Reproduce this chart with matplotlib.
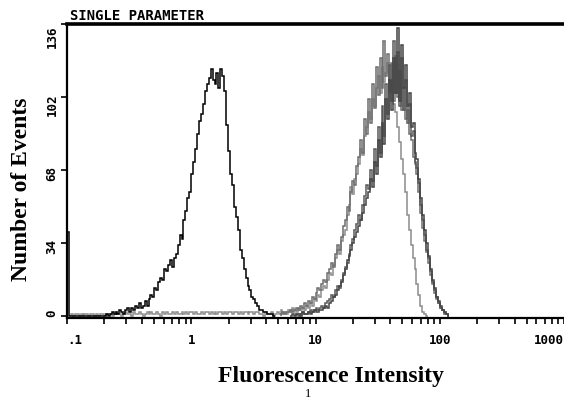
import numpy as np
import matplotlib.pyplot as plt
from matplotlib.ticker import LogLocator, NullFormatter

# histogram counts per channel (256 channels over 4 decades, 64 per decade)
CH_PER_DECADE = 64

black_start = 0
black_counts = [39] + [0] * 19 + [
    1, 0, 1, 2, 1, 2, 1, 3, 2, 1,
    3, 4, 2, 4, 3, 5, 4, 6, 4, 5,
    7, 5, 8, 10, 9, 13, 12, 16, 18, 17,
    22, 21, 24, 26, 23, 27, 29, 33, 38, 36,
    45, 49, 55, 58, 66, 72, 78, 85, 91, 94,
    99, 105, 108, 111, 115, 110, 108, 113, 106, 115,
    112, 105, 89, 77, 66, 61, 51, 46, 40, 31,
    27, 22, 18, 14, 12, 9, 8, 6, 5, 3,
    3, 2, 2, 1, 1, 1, 0]

g1_start = 2
g1_counts = [
    1, 0, 1, 1, 0, 1, 0, 1, 1, 0, 1, 1, 0, 1, 0, 1, 1, 0, 1, 1,
    1, 0, 1, 2, 1, 1, 0, 1, 2, 1, 1, 0, 2, 1, 1, 2, 1, 0, 1, 2,
    1, 2, 1, 1, 2, 1, 0, 2, 1, 2, 1, 1, 2, 1, 2, 1, 1, 2, 1, 2,
    1, 2, 2, 1, 2, 1, 1, 2, 1, 2, 2, 1, 2, 1, 2, 1, 2, 2, 1, 2,
    1, 2, 2, 1, 2, 2, 1, 2, 1, 2, 2, 1, 2, 2, 1, 2, 2, 1,
    1, 0, 2, 1, 1, 2, 0, 1, 2, 1, 3, 1, 2, 1, 3, 2, 4, 3, 2, 4, 3,
    4, 3, 5, 4, 6, 5, 8, 7, 10, 9,
    12, 14, 13, 17, 20, 19, 24, 27, 31, 29,
    35, 38, 40, 47, 52, 60, 57, 64, 66, 71,
    78, 75, 84, 88, 95, 92, 101, 98, 106, 112,
    104, 116, 109, 113, 118, 105, 110, 99, 95, 88,
    81, 73, 66, 58, 47, 40, 33, 27, 22, 15,
    10, 5, 2, 1, 0]

g2_start = 110
g2_counts = [
    1, 2, 1, 2, 2, 3, 2, 3, 4, 3, 5,
    4, 6, 5, 7, 6, 9, 8, 11, 13, 12,
    15, 17, 16, 20, 22, 25, 23, 29, 33, 31,
    37, 42, 45, 51, 49, 58, 63, 61, 70, 74,
    82, 76, 92, 85, 101, 90, 108, 97, 116, 103,
    120, 106, 128, 112, 122, 104, 118, 100, 121, 102,
    114, 96, 106, 92, 96, 85, 82, 74, 71, 66,
    58, 48, 41, 35, 30, 25, 19, 15, 11, 8,
    6, 4, 3, 2, 1, 0]

g3_start = 115
g3_counts = [
    0, 1, 0, 1, 1, 0, 2, 1, 1, 2, 1, 2, 3, 2, 2, 3,
    3, 4, 5, 4, 6, 7, 9, 10, 12, 14,
    16, 19, 22, 26, 28, 31, 34, 37, 39, 42,
    45, 48, 52, 55, 58, 64, 60, 72, 66, 82,
    74, 90, 80, 101, 92, 110, 96, 120, 104, 134,
    100, 126, 106, 117, 98, 104, 88, 90, 76, 73,
    64, 55, 47, 40, 34, 28, 22, 17, 13, 9,
    7, 5, 3, 2, 1, 0]

g4_start = 118
g4_counts = [
    1, 0, 1, 2, 1, 1, 2, 3, 2, 3, 4, 3, 4,
    5, 4, 6, 7, 8, 10, 9, 12, 14, 13,
    17, 20, 23, 25, 29, 33, 36, 40, 43, 47,
    45, 52, 56, 61, 59, 68, 63, 78, 70, 88,
    76, 98, 84, 108, 94, 117, 100, 128, 104, 123,
    98, 120, 96, 110, 90, 99, 84, 86, 72, 69,
    62, 52, 45, 38, 31, 27, 21, 16, 12, 9,
    6, 4, 3, 1, 1, 0]

series = [
    (g1_start, g1_counts, '#8c8c8c'),
    (g2_start, g2_counts, '#6e6e6e'),
    (g4_start, g4_counts, '#5a5a5a'),
    (g3_start, g3_counts, '#444444'),
    (black_start, black_counts, '#000000'),
]

x_ticks = [0.1, 1, 10, 100, 1000]
x_labels = ['.1', '1', '10', '100', '1000']
y_ticks = [0, 34, 68, 102, 136]
y_labels = ['0', '34', '68', '102', '136']

mono = 'DejaVu Sans Mono'
serif = 'Liberation Serif'

fig = plt.figure(figsize=(5.64, 4.02), dpi=100)
ax = fig.add_axes([67 / 564, 1 - 319 / 402, (564 - 67) / 564, (319 - 25) / 402])

for start, counts, color in series:
    edges = 10 ** ((start + np.arange(len(counts) + 1)) / CH_PER_DECADE - 1)
    ax.stairs(counts, edges, color=color, lw=1.1)

ax.set_xscale('log')
ax.set_xlim(0.1, 1000)
ax.set_ylim(-0.8, 136)

ax.set_xticks(x_ticks)
ax.set_xticklabels(x_labels, family=mono, weight='bold', fontsize=9)
ax.xaxis.set_minor_locator(LogLocator(base=10, subs=np.arange(2, 10)))
ax.xaxis.set_minor_formatter(NullFormatter())
ax.tick_params(axis='x', which='both', direction='out', length=4, width=1.2, pad=7)
labs = ax.get_xticklabels()
labs[0].set_ha('left')
labs[-1].set_ha('right')

ax.set_yticks(y_ticks)
ax.set_yticklabels(y_labels, family=mono, weight='bold', fontsize=9, rotation=90)
ax.tick_params(axis='y', direction='out', length=4, width=1.2, pad=2)
ylabs = ax.get_yticklabels()
ylabs[0].set_va('bottom')
ylabs[-1].set_va('top')

ax.spines['right'].set_visible(False)
ax.spines['top'].set_linewidth(2.6)
ax.spines['left'].set_linewidth(1.6)
ax.spines['bottom'].set_linewidth(1.6)

fig.text(70 / 564, 1 - 16 / 402, 'SINGLE PARAMETER', family=mono, weight='bold',
         fontsize=10, va='center')
fig.text(22 / 564, 1 - 189 / 402, 'Number of Events', rotation=90, family=serif,
         weight='bold', fontsize=17, ha='center', va='center')
fig.text(331 / 564, 1 - 377 / 402, 'Fluorescence Intensity', family=serif,
         weight='bold', fontsize=17, ha='center', va='center')
fig.text(308 / 564, 1 - 394 / 402, '1', family=serif, fontsize=9, ha='center', va='center')

fig.savefig('out.png', dpi=100)
